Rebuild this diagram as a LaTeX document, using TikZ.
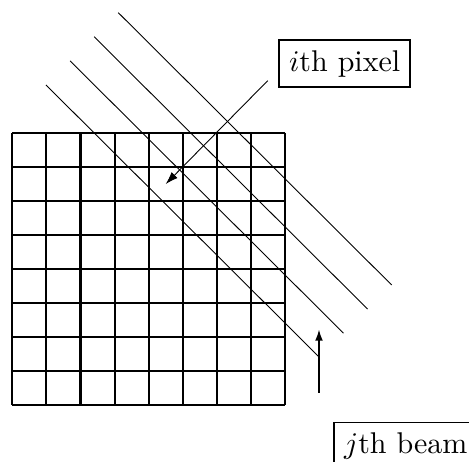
\documentclass[tikz,border=0pt]{standalone}
\usetikzlibrary{arrows.meta}
\begin{document}
\begin{tikzpicture}[x=0.33333pt,y=-0.33333pt,
  gridline/.style={line width=0.7pt},
  beamline/.style={line width=0.3pt},
  labelbox/.style={draw,line width=0.6pt,inner sep=3.33pt,font=\normalsize},
  thinarrow/.style={line width=0.3pt,-{Latex[length=4.2pt,width=2.8pt]}},
  thickarrow/.style={line width=0.6pt,-{Latex[length=3.8pt,width=2.6pt]}}]
\useasboundingbox (0,0) rectangle (469,462);
% grid
\foreach \i in {0,...,8}{
  \draw[gridline] (12.3+34.09*\i,132.7) -- (12.3+34.09*\i,405.4);
  \draw[gridline] (12.3,132.7+34.09*\i) -- (285,132.7+34.09*\i);
}
% beams
\foreach \k in {0,...,3}{
  \draw[beamline] (118.3-24.1*\k,12.7+24.1*\k) -- (391.7-24.1*\k,285+24.1*\k);
}
% labels
\node[labelbox] (ipix) at (344.7,63.7) {$i$th pixel};
\node[labelbox,anchor=north west] (jbeam) at (333.3,421.7) {$j$th beam};
% connectors
\coordinate (pix) at (165.7,184.1);
\coordinate (ia) at (267.7,80.7);
\draw[thinarrow] (ia) -- (pix);
\coordinate (ja) at (319,392.7);
\coordinate (jb) at (319,329.3);
\draw[thickarrow] (ja) -- (jb);
\end{tikzpicture}
\end{document}
